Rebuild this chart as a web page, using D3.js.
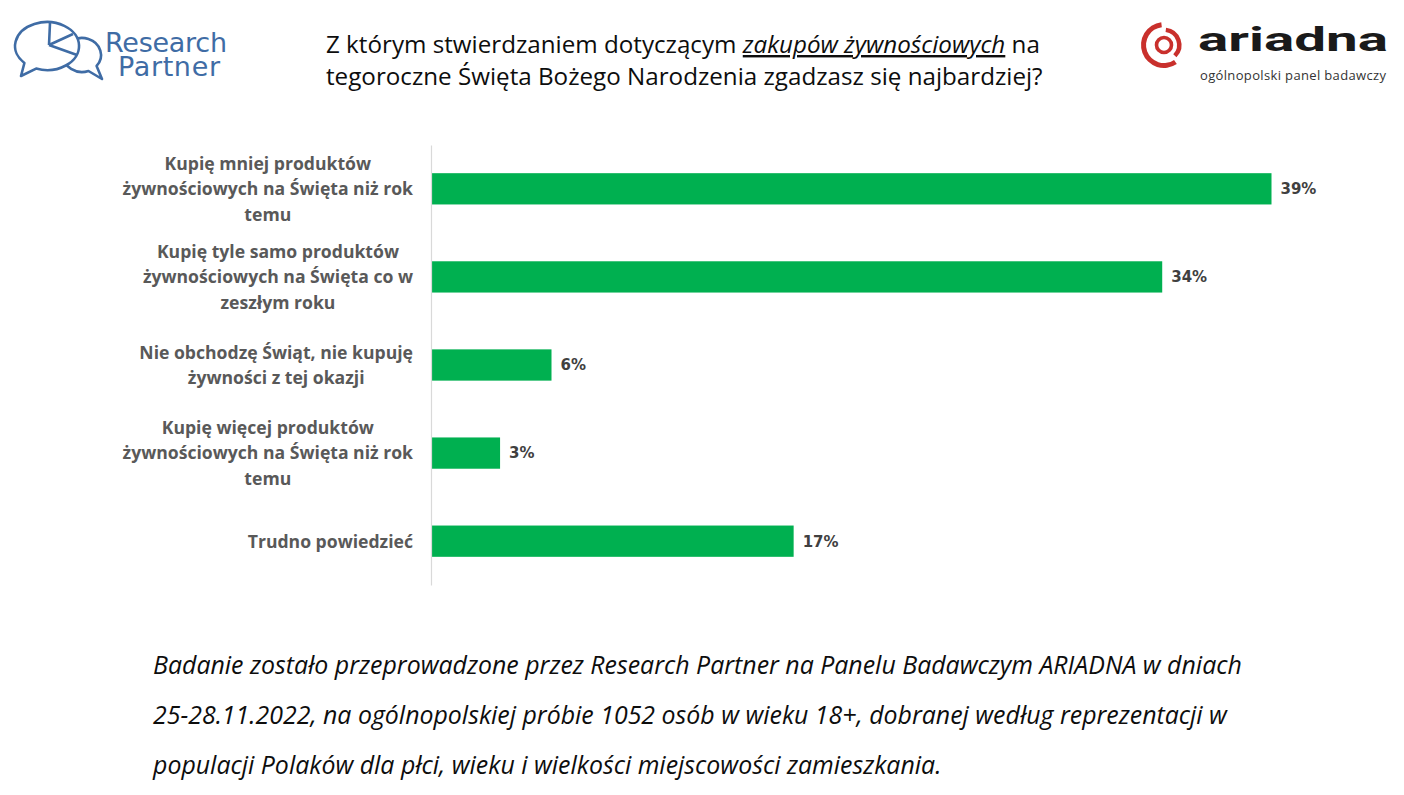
<!DOCTYPE html>
<html lang="pl">
<head>
<meta charset="UTF-8">
<title>Zakupy żywnościowe na Święta</title>
<script src="https://d3js.org/d3.v7.min.js"></script>
<style>
  body { margin: 0; background: #fff; }
  svg { display: block; }
</style>
</head>
<body>
<div id="chart"></div>
<script>
// data
const categories = [
  ["Kupię mniej produktów", "żywnościowych na Święta niż rok", "temu"],
  ["Kupię tyle samo produktów", "żywnościowych na Święta co w", "zeszłym roku"],
  ["Nie obchodzę Świąt, nie kupuję", "żywności z tej okazji"],
  ["Kupię więcej produktów", "żywnościowych na Święta niż rok", "temu"],
  ["Trudno powiedzieć"]
];
// bar lengths; labels show them rounded
const values = [39.2, 34.1, 5.6, 3.2, 16.9];
const titleLines = [
  [["Z którym stwierdzaniem dotyczącym ", false], ["zakupów żywnościowych", true], [" na", false]],
  [["tegoroczne Święta Bożego Narodzenia zgadzasz się najbardziej?", false]]
];
const footerLines = [
  "Badanie zostało przeprowadzone przez Research Partner na Panelu Badawczym ARIADNA w dniach",
  "25-28.11.2022, na ogólnopolskiej próbie 1052 osób w wieku 18+, dobranej według reprezentacji w",
  "populacji Polaków dla płci, wieku i wielkości miejscowości zamieszkania."
];

const W = 1404, H = 795;
const svg = d3.select("#chart").append("svg")
  .attr("width", W).attr("height", H);

const plotLeft = 431.5, plotTop = 145, plotBottom = 585;

const y = d3.scaleBand()
  .domain(d3.range(values.length))
  .range([plotTop, plotBottom])
  .paddingInner(0.645)
  .paddingOuter(0.32);

const x = d3.scaleLinear()
  .domain([0, 39.2])
  .range([0, 840]);

// bars
svg.selectAll(".bar")
  .data(values)
  .enter().append("rect")
  .attr("class", "bar")
  .attr("x", plotLeft)
  .attr("y", (d, i) => y(i))
  .attr("width", d => x(d))
  .attr("height", y.bandwidth())
  .attr("fill", "#00b050");

// axis line
const axis = svg.append("g")
  .attr("transform", "translate(" + (plotLeft - 0.5) + ",0)")
  .call(d3.axisLeft(y).tickSize(0).tickFormat(""));
axis.select(".domain").attr("stroke", "#d9d9d9").attr("stroke-width", 1.2);

// value labels
svg.selectAll(".val")
  .data(values)
  .enter().append("text")
  .attr("x", d => plotLeft + x(d) + 9)
  .attr("y", (d, i) => y(i) + y.bandwidth() / 2)
  .attr("dy", "0.36em")
  .attr("font-family", "DejaVu Sans")
  .attr("font-weight", "bold")
  .attr("font-size", 15)
  .attr("fill", "#404040")
  .text(d => Math.round(d) + "%");

// category labels: block right-aligned, lines centred in block
const labRight = 413, lineH = 25.5;
categories.forEach((lines, i) => {
  const g = svg.append("g");
  const cy = y(i) + y.bandwidth() / 2;
  const t = g.selectAll("text").data(lines).enter().append("text")
    .attr("font-family", "Open Sans")
    .attr("font-weight", "bold")
    .attr("font-size", 17.6)
    .attr("fill", "#595959")
    .attr("text-anchor", "middle")
    .attr("y", (d, j) => cy + (j - (lines.length - 1) / 2) * lineH)
    .attr("dy", "0.36em")
    .text(d => d);
  let maxW = 0;
  t.each(function() { maxW = Math.max(maxW, this.getComputedTextLength()); });
  t.attr("x", labRight - maxW / 2);
});

// title
titleLines.forEach((parts, i) => {
  const t = svg.append("text")
    .attr("x", 326).attr("y", 53 + i * 32)
    .attr("font-family", "Open Sans")
    .attr("font-size", 24.2)
    .attr("fill", "#0d0d0d");
  parts.forEach(p => {
    const s = t.append("tspan").text(p[0]);
    if (p[1]) s.attr("font-style", "italic").attr("text-decoration", "underline");
  });
});

// footer
svg.selectAll(".foot")
  .data(footerLines)
  .enter().append("text")
  .attr("x", 153)
  .attr("y", (d, i) => 674 + i * 50)
  .attr("font-family", "Open Sans")
  .attr("font-style", "italic")
  .attr("font-size", 24.9)
  .attr("fill", "#0d0d0d")
  .text(d => d);

// Research Partner logo
const blue = "#3f6ca5";
const rp = svg.append("g").attr("stroke", blue)
  .attr("stroke-width", 2.6).attr("stroke-linejoin", "round");
rp.append("path").attr("fill", "#fff")
  .attr("d", "M96.6,65.9 A19,17 0 1 0 88.5,71 L102,79 Z");
rp.append("path").attr("fill", "#fff")
  .attr("d", "M36.1,68.6 A32,24 0 1 0 24.4,63 L21,76 Z");
rp.append("path").attr("fill", "none")
  .attr("d", "M49,45 L50,23 M49,45 L73,34 M49,45 L77,55");
const rpt = svg.append("text").attr("fill", blue).attr("font-family", "DejaVu Sans").attr("font-size", 27);
rpt.append("tspan").attr("x", 105).attr("y", 52).attr("textLength", 122).text("Research");
rpt.append("tspan").attr("x", 118).attr("y", 76).attr("textLength", 102).text("Partner");

// ARIADNA logo
const red = "#c9302c";
const arc = d3.arc();
const lcx = 1164, lcy = 45;
const ar = svg.append("g").attr("transform", `translate(${lcx},${lcy})`);
ar.append("path").attr("fill", red)
  .attr("d", arc({innerRadius: 18, outerRadius: 23, startAngle: 2.55, endAngle: 2 * Math.PI - 0.12}));
ar.append("path").attr("fill", red)
  .attr("d", arc({innerRadius: 13, outerRadius: 17.5, startAngle: 0.12, endAngle: 2.35}));
ar.append("circle").attr("r", 7.5).attr("fill", "none").attr("stroke", red).attr("stroke-width", 3.6);
svg.append("text").attr("x", 1198).attr("y", 51)
  .attr("font-family", "Roboto").attr("font-weight", "bold").attr("font-size", 34)
  .attr("fill", "#1a1a1a").attr("textLength", 190).attr("lengthAdjust", "spacingAndGlyphs")
  .text("ariadna");
svg.append("text").attr("x", 1200).attr("y", 80)
  .attr("font-family", "Open Sans").attr("font-size", 13)
  .attr("fill", "#333").attr("textLength", 186).text("ogólnopolski panel badawczy");
</script>
</body>
</html>
